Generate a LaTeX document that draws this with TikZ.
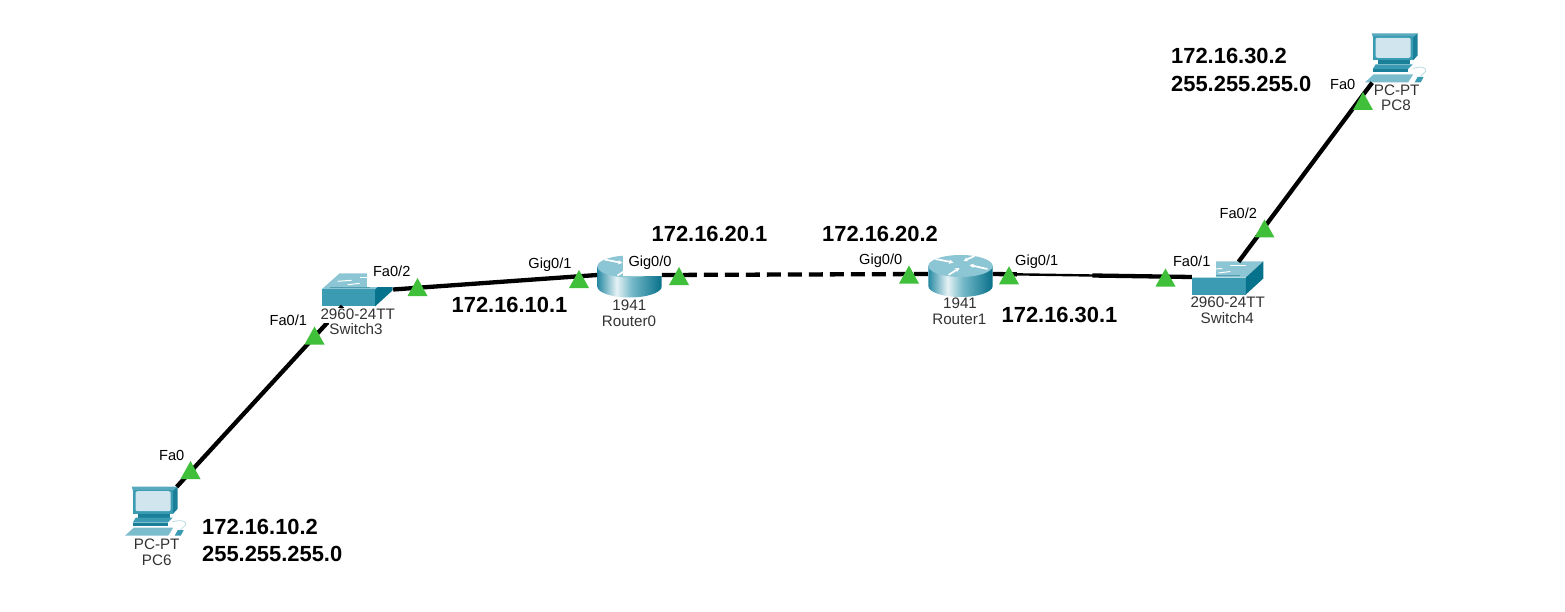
\documentclass[tikz,border=0pt]{standalone}
\usepackage{fontspec}
\setmainfont{Liberation Sans}
\usetikzlibrary{arrows.meta,calc}
\definecolor{swfront}{HTML}{3A9BB3}
\definecolor{swright}{HTML}{06728C}
\definecolor{swtop}{HTML}{8CC5D3}
\definecolor{pcscreen}{HTML}{D1E5EE}
\definecolor{pcside}{HTML}{1A7F98}
\definecolor{portgreen}{HTML}{40BF3A}
\definecolor{devtext}{HTML}{333333}
\pgfdeclarehorizontalshading{routerbody}{100bp}{rgb(0bp)=(0.15,0.54,0.64); rgb(25bp)=(0.15,0.54,0.64); rgb(40bp)=(0.90,0.95,0.96); rgb(52bp)=(0.45,0.72,0.78); rgb(75bp)=(0.03,0.44,0.54); rgb(100bp)=(0.03,0.44,0.54)}
\tikzset{
  link/.style={line width=4.3pt,black},
  thinlink/.style={line width=2.4pt,black},
  dashedlink/.style={link,dash pattern=on 14pt off 7pt},
  devbox/.style={draw=none,fill=none,inner sep=0pt,minimum width=#1},
  portlabel/.style={anchor=base,yshift=-5pt,fill=white,font=\fontsize{14.6}{16}\selectfont,text=black,inner xsep=6pt,inner ysep=2pt,text height=11pt,text depth=8pt},
  devlabel/.style={anchor=base,yshift=-5pt,fill=white,font=\fontsize{15.2}{17}\selectfont,text=devtext,inner xsep=0.5pt,inner ysep=0pt,text height=11pt,text depth=3.5pt},
  iplabel/.style={anchor=base,yshift=-7.8pt,font=\fontsize{21.9}{24}\selectfont\bfseries,text=black,inner sep=0pt},
  routerarrow/.style={white,line width=1.7pt,-{Stealth[length=4.5pt,width=4.5pt]}}
}
\newcommand{\drawswitch}[2]{%
  \begin{scope}[shift={(#1,#2)}]
    \fill[swtop] (0,0) -- (18,-16) -- (71,-16) -- (53.5,0) -- cycle;
    \fill[swfront] (0,0) rectangle (53.5,17);
    \fill[swright] (53.5,0) -- (71,-16) -- (71,1) -- (53.5,17) -- cycle;
    \draw[white,line width=1pt] (16,-8) -- (30,-9);
    \draw[white,line width=1pt] (38,-12) -- (54,-12);
    \draw[white,line width=1pt] (26,-4.5) -- (38,-6);
    \draw[swright!70,line width=.6pt] (8,-2) -- (48,-2);
  \end{scope}}
\newcommand{\drawrouter}[2]{%
  \begin{scope}[shift={(#1,#2)}]
    \path[shading=routerbody] (-32.2,0) -- (-32.2,20) arc (180:360:32.2pt and 11pt) -- (32.2,0) -- cycle;
    \fill[swtop] (0,0) ellipse [x radius=32.2pt,y radius=11pt];
    \draw[routerarrow] (-25,-7) -- (-7,-3.5);
    \draw[routerarrow] (14,-10) -- (3,-5);
    \draw[routerarrow] (27,3) -- (9,-1);
    \draw[routerarrow] (-12,9) -- (-1,2);
  \end{scope}}
\newcommand{\drawpc}[2]{%
  \begin{scope}[shift={(#1,#2)}]
    \fill[swfront!85!white] (0,0) -- (46,0) -- (41.5,5) -- (1.5,5) -- cycle;
    \fill[pcside] (46,0) -- (46,22) -- (41.5,27) -- (41.5,4) -- cycle;
    \fill[swfront] (1.5,3) rectangle (41.5,27);
    \fill[pcscreen,rounded corners=2pt] (3.8,4.5) rectangle (39,24.5);
    \fill[pcside] (6,27) -- (38,27) -- (38,31) -- (6,31) -- cycle;
    \fill[swfront] (4,31) -- (41,31) -- (36,36) -- (1,36) -- cycle;
    \fill[pcside] (1,36) -- (36,36) -- (36,39) -- (1,39) -- cycle;
    \fill[swtop!80!swfront] (-6.7,49) -- (2,41) -- (41.5,41) -- (36.5,49) -- cycle;
    \fill[swfront] (43,49) -- (46,43.5) -- (52,43.5) -- (49,49) -- cycle;
    \draw[swtop!60!white,line width=.8pt] (41,35) .. controls (48,33) and (56,34) .. (54,38) .. controls (53,40) and (50,41) .. (49,43);
  \end{scope}}
\newcommand{\portmark}[2]{\fill[portgreen] (#1,#2) -- ++(-10,18) -- ++(20,0) -- cycle;}
\begin{document}
\begin{tikzpicture}[x=1pt,y=-1pt]
\useasboundingbox (0,0) rectangle (1565,612);
\fill[white] (0,0) rectangle (1565,612);
% anchor nodes of the devices
\node[devbox=62pt,minimum height=49pt] (PC6) at (156,511.5) {};
\node[devbox=71pt,minimum height=33pt] (S3) at (357.5,289.5) {};
\node[devbox=64.4pt,minimum height=40pt] (R0) at (629.5,275) {};
\node[devbox=64.4pt,minimum height=40pt] (R1) at (960.5,274) {};
\node[devbox=71pt,minimum height=30pt] (S4) at (1227.5,277) {};
\node[devbox=62pt,minimum height=49pt] (PC8) at (1396,58) {};
% devices
\drawpc{131.7}{486.7}
\drawswitch{321.7}{289.3}
\drawrouter{629.5}{266.5}
\drawrouter{960.5}{266}
\drawswitch{1192.3}{277.5}
\drawpc{1371.7}{33.3}
% port labels
\node[portlabel] (lblpc6) at (171.7,455.7) {Fa0};
\node[portlabel] (lbls3a) at (288.3,320) {Fa0/1};
\node[portlabel] (lbls3b) at (391.7,271.7) {Fa0/2};
\node[portlabel] (lblr0a) at (550,263.3) {Gig0/1};
\node[portlabel] (lblr0b) at (650,261) {Gig0/0};
\node[portlabel] (lblr1a) at (880.7,260) {Gig0/0};
\node[portlabel] (lblr1b) at (1036.7,260.7) {Gig0/1};
\node[portlabel] (lbls4a) at (1191.7,261.7) {Fa0/1};
\node[portlabel] (lbls4b) at (1238.3,213.3) {Fa0/2};
\node[portlabel] (lblpc8) at (1342.7,85) {Fa0};
% links
\draw[link] (PC6.50) -- (S3.228.5);
\draw[link] (S3.east) -- (R0.west);
\draw[dashedlink] (R0.east) -- (R1.west);
\draw[thinlink] (R1.east) -- (S4.west);
\draw[link] (R1.east) -- ($(R1.east)!0.12!(S4.west)$);
\draw[link] ($(R1.east)!0.5!(S4.west)$) -- (S4.west);
\draw[link] (S4.54) -- (PC8.226.8);
% device labels
\node[devlabel] (t1) at (156.7,544) {PC-PT};
\node[devlabel] (t2) at (156.7,560) {PC6};
\node[devlabel] (t3) at (357.7,314) {2960-24TT};
\node[devlabel] (t4) at (356,329.3) {Switch3};
\node[devlabel] (t5) at (629.3,305.7) {1941};
\node[devlabel] (t6) at (629,321) {Router0};
\node[devlabel] (t7) at (960,303.3) {1941};
\node[devlabel] (t8) at (959.3,319.3) {Router1};
\node[devlabel] (t9) at (1227.7,302.7) {2960-24TT};
\node[devlabel] (t10) at (1227.3,318.3) {Switch4};
\node[devlabel] (t11) at (1396.7,91) {PC-PT};
\node[devlabel] (t12) at (1396,106) {PC8};
% port markers
\portmark{190.5}{461}
\portmark{314.5}{326.5}
\portmark{417.5}{278}
\portmark{579}{270}
\portmark{679}{267}
\portmark{909}{265.5}
\portmark{1009}{266.3}
\portmark{1165.5}{268.5}
\portmark{1264.5}{219.5}
\portmark{1363}{92}
% addresses
\node[iplabel] (ip1) at (509.5,305) {172.16.10.1};
\node[iplabel] (ip2) at (709.5,234) {172.16.20.1};
\node[iplabel] (ip3) at (880,234) {172.16.20.2};
\node[iplabel] (ip4) at (1059.5,315) {172.16.30.1};
\node[iplabel,anchor=base west] (ip5) at (202,527) {172.16.10.2};
\node[iplabel,anchor=base west] (ip6) at (202,554) {255.255.255.0};
\node[iplabel,anchor=base west] (ip7) at (1171,56) {172.16.30.2};
\node[iplabel,anchor=base west] (ip8) at (1171,84) {255.255.255.0};
\end{tikzpicture}
\end{document}
